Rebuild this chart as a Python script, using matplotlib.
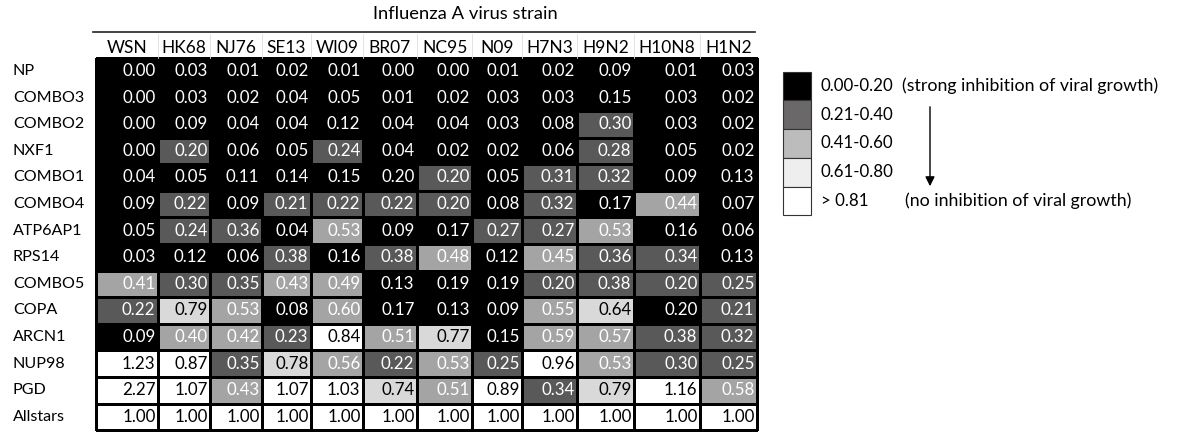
import numpy as np
import matplotlib
matplotlib.use("Agg")
import matplotlib.pyplot as plt
from matplotlib.colors import ListedColormap, BoundaryNorm

# Influenza A virus strains (columns) and siRNA targets (rows)
strains = ["WSN", "HK68", "NJ76", "SE13", "WI09", "BR07", "NC95", "N09",
           "H7N3", "H9N2", "H10N8", "H1N2"]
genes = ["NP", "COMBO3", "COMBO2", "NXF1", "COMBO1", "COMBO4", "ATP6AP1",
         "RPS14", "COMBO5", "COPA", "ARCN1", "NUP98", "PGD", "Allstars"]

ratios = np.array([
    [0.00, 0.03, 0.01, 0.02, 0.01, 0.00, 0.00, 0.01, 0.02, 0.09, 0.01, 0.03],
    [0.00, 0.03, 0.02, 0.04, 0.05, 0.01, 0.02, 0.03, 0.03, 0.15, 0.03, 0.02],
    [0.00, 0.09, 0.04, 0.04, 0.12, 0.04, 0.04, 0.03, 0.08, 0.30, 0.03, 0.02],
    [0.00, 0.20, 0.06, 0.05, 0.24, 0.04, 0.02, 0.02, 0.06, 0.28, 0.05, 0.02],
    [0.04, 0.05, 0.11, 0.14, 0.15, 0.20, 0.20, 0.05, 0.31, 0.32, 0.09, 0.13],
    [0.09, 0.22, 0.09, 0.21, 0.22, 0.22, 0.20, 0.08, 0.32, 0.17, 0.44, 0.07],
    [0.05, 0.24, 0.36, 0.04, 0.53, 0.09, 0.17, 0.27, 0.27, 0.53, 0.16, 0.06],
    [0.03, 0.12, 0.06, 0.38, 0.16, 0.38, 0.48, 0.12, 0.45, 0.36, 0.34, 0.13],
    [0.41, 0.30, 0.35, 0.43, 0.49, 0.13, 0.19, 0.19, 0.20, 0.38, 0.20, 0.25],
    [0.22, 0.79, 0.53, 0.08, 0.60, 0.17, 0.13, 0.09, 0.55, 0.64, 0.20, 0.21],
    [0.09, 0.40, 0.42, 0.23, 0.84, 0.51, 0.77, 0.15, 0.59, 0.57, 0.38, 0.32],
    [1.23, 0.87, 0.35, 0.78, 0.56, 0.22, 0.53, 0.25, 0.96, 0.53, 0.30, 0.25],
    [2.27, 1.07, 0.43, 1.07, 1.03, 0.74, 0.51, 0.89, 0.34, 0.79, 1.16, 0.58],
    [1.00, 1.00, 1.00, 1.00, 1.00, 1.00, 1.00, 1.00, 1.00, 1.00, 1.00, 1.00],
])

# shade class of each cell as drawn in the original (0 = black ... 4 = white)
shade = np.array([
    [0, 0, 0, 0, 0, 0, 0, 0, 0, 0, 0, 0],
    [0, 0, 0, 0, 0, 0, 0, 0, 0, 0, 0, 0],
    [0, 0, 0, 0, 0, 0, 0, 0, 0, 1, 0, 0],
    [0, 1, 0, 0, 1, 0, 0, 0, 0, 1, 0, 0],
    [0, 0, 0, 0, 0, 0, 1, 0, 1, 1, 0, 0],
    [0, 1, 0, 1, 1, 1, 1, 0, 1, 0, 2, 0],
    [0, 1, 1, 0, 2, 0, 0, 1, 1, 2, 0, 0],
    [0, 0, 0, 1, 0, 1, 2, 0, 2, 1, 1, 0],
    [2, 1, 1, 2, 2, 0, 0, 0, 1, 1, 1, 1],
    [1, 3, 2, 0, 2, 0, 0, 0, 2, 3, 0, 1],
    [0, 2, 2, 1, 4, 2, 3, 0, 2, 2, 1, 1],
    [4, 4, 1, 3, 2, 1, 2, 1, 4, 2, 1, 1],
    [4, 4, 2, 4, 4, 3, 2, 4, 1, 3, 4, 2],
    [4, 4, 4, 4, 4, 4, 4, 4, 4, 4, 4, 4],
])

legend_labels = ["0.00-0.20", "0.21-0.40", "0.41-0.60", "0.61-0.80", "> 0.81"]
legend_top_note = "(strong inhibition of viral growth)"
legend_bottom_note = "(no inhibition of viral growth)"

# styling
cell_colors = ["#000000", "#595959", "#a4a4a4", "#d9d9d9", "#ffffff"]
key_colors = ["#000000", "#6a6868", "#bcbcbc", "#eeeeee", "#ffffff"]
col_widths = [61.5, 52, 52, 49, 52, 54, 55.5, 49.5, 55, 57, 66, 57]
row_h = 26.6
x0, y0 = 96.5, 57.7
fs_num = 12.2
fs_row = 11.6
fs_head = 12.5
fs_title = 13.2
fs_note = 12.8

plt.rcParams['font.family'] = ['Lato', 'DejaVu Sans']
fig = plt.figure(figsize=(11.83, 4.34), dpi=100)
ax = fig.add_axes([0, 0, 1, 1])
ax.set_xlim(0, 1183)
ax.set_ylim(434, 0)
ax.axis('off')

x_edges = x0 + np.concatenate([[0], np.cumsum(col_widths)])
y_edges = y0 + row_h * np.arange(len(genes) + 1)

cmap = ListedColormap(cell_colors)
norm = BoundaryNorm(np.arange(-0.5, 5.5, 1), cmap.N)
ax.pcolormesh(x_edges, y_edges, shade, cmap=cmap, norm=norm,
              edgecolors="black", linewidth=0.8)

# values, right aligned in their cells
for i in range(len(genes)):
    yc = (y_edges[i] + y_edges[i + 1]) / 2
    ax.text(13, yc, genes[i], ha="left", va="center", fontsize=fs_row,
            color="black")
    for j in range(len(strains)):
        col = "white" if shade[i, j] <= 2 else "black"
        ax.text(x_edges[j + 1] - 2.5, yc, f"{ratios[i, j]:.2f}",
                ha="right", va="center", fontsize=fs_num, color=col)

# faint sheet gridlines in the header row
for xe in x_edges[1:-1]:
    ax.plot([xe, xe], [34, y0], color="#dedede", lw=0.6)

# column headers, title and rule
for j, s in enumerate(strains):
    ax.text((x_edges[j] + x_edges[j + 1]) / 2, 48, s, ha="center",
            va="center", fontsize=fs_head)
ax.plot([93, 755], [32.3, 32.3], color="#222222", lw=1.2)
ax.text(465, 14, "Influenza A virus strain", ha="center", va="center",
        fontsize=fs_title)

# colour key
kx, ky, kw, kh = 783, 71.7, 28, 28.7
for k, lab in enumerate(legend_labels):
    ax.add_patch(plt.Rectangle((kx, ky + k * kh), kw, kh,
                               facecolor=key_colors[k], edgecolor="#333333", lw=0.8))
    ax.text(821, ky + (k + 0.5) * kh, lab, ha="left", va="center",
            fontsize=fs_num)
ax.text(902, ky + 0.5 * kh, legend_top_note, ha="left", va="center",
        fontsize=fs_note)
ax.text(905, ky + 4.5 * kh, legend_bottom_note, ha="left", va="center",
        fontsize=fs_note)
ax.annotate("", xy=(930, 189), xytext=(930, 104),
            arrowprops=dict(arrowstyle="-|>", color="black", lw=1.0,
                            mutation_scale=14))

fig.savefig("out.png", dpi=100)
plt.close(fig)
